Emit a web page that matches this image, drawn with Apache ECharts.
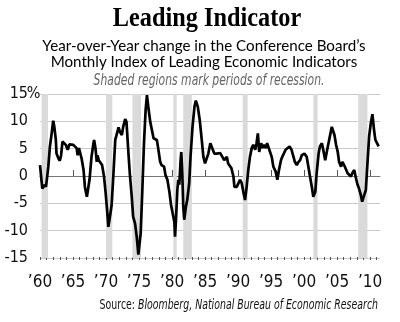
<!DOCTYPE html>
<html>
<head>
<meta charset="utf-8">
<script src="https://cdn.jsdelivr.net/npm/echarts@6/dist/echarts.min.js"></script>
<style>
html,body{margin:0;padding:0;background:#fff;}
#c{width:400px;height:322px;}
</style>
</head>
<body>
<div id="c"></div>
<script>
// ---- data ----
const years = [
1960.0,1960.35,1960.5,1960.75,1960.9,1961.06,1961.26,1961.5,1961.77,1962.0,
1962.17,1962.4,1962.5,1962.8,1963.0,1963.2,1963.4,1963.7,1963.9,1964.2,
1964.45,1964.7,1965.05,1965.3,1965.55,1965.7,1965.9,1966.2,1966.3,1966.6,
1966.8,1967.1,1967.2,1967.5,1967.8,1968.1,1968.2,1968.4,1968.6,1968.7,
1968.9,1969.2,1969.4,1969.7,1969.95,1970.2,1970.35,1970.6,1970.85,1971.1,
1971.4,1971.6,1971.9,1972.1,1972.4,1972.6,1972.9,1973.1,1973.4,1973.6,
1973.9,1974.1,1974.4,1974.65,1974.9,1975.05,1975.25,1975.5,1975.75,1976.0,
1976.2,1976.4,1976.7,1976.9,1977.2,1977.4,1977.7,1977.9,1978.2,1978.4,
1978.8,1979.0,1979.3,1979.6,1979.85,1980.1,1980.35,1980.45,1980.6,1980.8,
1980.95,1981.1,1981.3,1981.4,1981.55,1981.7,1981.85,1982.1,1982.3,1982.6,
1982.8,1983.1,1983.4,1983.6,1983.9,1984.2,1984.5,1984.75,1985.0,1985.25,
1985.5,1985.8,1986.1,1986.4,1986.8,1987.3,1987.6,1987.9,1988.3,1988.5,
1988.8,1989.0,1989.3,1989.45,1989.8,1990.05,1990.3,1990.55,1990.8,1991.06,
1991.3,1991.55,1991.8,1992.07,1992.3,1992.6,1992.8,1993.0,1993.2,1993.5,
1993.7,1993.9,1994.2,1994.4,1994.7,1995.1,1995.35,1995.7,1995.95,1996.2,
1996.5,1996.7,1997.0,1997.2,1997.5,1997.8,1998.1,1998.4,1998.6,1998.9,
1999.1,1999.4,1999.65,2000.05,2000.4,2000.65,2000.9,2001.2,2001.4,2001.7,
2001.9,2002.2,2002.4,2002.7,2002.9,2003.2,2003.5,2003.7,2003.9,2004.2,
2004.35,2004.6,2004.85,2005.1,2005.3,2005.6,2005.8,2006.06,2006.3,2006.6,
2006.8,2007.1,2007.3,2007.6,2007.8,2008.1,2008.3,2008.6,2008.8,2009.1,
2009.35,2009.6,2009.85,2010.1,2010.35,2010.6,2010.8,2011.05,2011.3
];
const values = [
2.0,-2.3,-2.6,-1.6,-2.0,-0.4,1.7,5.4,7.8,10.1,
9.0,6.6,4.1,3.2,2.8,3.8,6.3,6.3,5.7,4.8,
5.8,6.0,5.7,6.0,5.1,3.8,5.1,4.8,3.2,1.1,
-2.0,-3.8,-4.1,-0.7,3.5,6.0,6.6,5.1,2.6,3.8,
2.9,3.2,2.0,-0.1,-3.2,-6.8,-9.3,-7.4,-5.3,-0.1,
6.6,6.9,8.9,8.1,7.5,9.0,10.4,9.9,4.1,0.5,
-3.8,-7.4,-8.7,-11.1,-14.4,-14.7,-10.5,-2.6,6.0,12.1,
14.8,12.7,9.9,9.6,6.9,7.2,6.6,5.1,2.6,2.0,
1.7,0.2,-0.7,-2.9,-5.3,-5.0,-8.4,-11.1,-8.0,-2.6,
-0.7,-1.6,2.9,4.4,0.5,-5.6,-8.0,-5.6,-4.4,-1.3,
3.5,9.0,12.7,13.8,12.7,10.2,6.6,3.5,2.3,2.6,
4.1,6.0,5.7,4.1,4.1,4.2,4.1,2.9,3.5,2.3,
2.6,1.4,-0.1,-2.0,-2.0,-2.2,-0.7,-1.3,-2.9,-4.4,
-2.0,1.1,3.5,5.1,5.7,4.8,6.0,7.8,4.4,6.0,
5.1,5.7,5.1,6.0,5.7,3.5,1.7,0.8,-0.7,1.1,
2.9,3.5,3.2,4.8,5.1,5.4,4.8,3.5,2.6,2.0,
2.5,2.9,3.8,4.1,3.5,1.7,-0.1,-2.2,-3.8,-2.9,
0.5,4.1,5.4,6.0,4.8,2.9,4.8,6.0,7.2,9.0,
9.3,7.5,5.7,4.4,2.6,1.7,2.6,2.0,2.3,0.5,
0.2,-0.1,0.5,1.1,-0.1,-1.6,-2.2,-3.5,-4.7,-5.0,
-2.6,2.3,7.2,9.6,11.3,8.4,6.6,6.0,5.4
];
const recessionStart = [1960.25,1970.0,1974.0,1980.2,1981.7,1990.7,2001.4,2008.2];
const recessionEnd   = [1961.2,1970.95,1975.3,1980.7,1983.0,1991.45,2002.05,2009.6];
const majorTicks = [1960,1965,1970,1975,1980,1985,1990,1995,2000,2005,2010];
const minorTicks = [];
for (let y = 1960; y <= 2011; y++) minorTicks.push(y);

const titleText = 'Leading Indicator';
const subtitleLine1 = 'Year-over-Year change in the Conference Board’s';
const subtitleLine2 = 'Monthly Index of Leading Economic Indicators';
const noteText = 'Shaded regions mark periods of recession.';
const sourceLabel = 'Source: ';
const sourceText = 'Bloomberg, National Bureau of Economic Research';

// ---- chart ----
const NARROW = '"DejaVu Sans Condensed","Liberation Sans Narrow",sans-serif';
const chart = echarts.init(document.getElementById('c'), null, {renderer: 'canvas'});
const lineData = years.map((y, i) => [y, values[i]]);
const areas = recessionStart.map((s, i) => [{xAxis: s}, {xAxis: recessionEnd[i]}]);

chart.setOption({
  animation: false,
  backgroundColor: '#ffffff',
  graphic: [
    {type: 'text', x: 207, y: 19, scaleX: 0.9, z: 10,
     style: {text: titleText, x: 0, y: 0, align: 'center', verticalAlign: 'middle',
       font: 'bold 27px "Liberation Serif","Times New Roman",serif', fill: '#000'}},
    {type: 'text', x: 204, y: 46, scaleX: 1.01, z: 10,
     style: {text: subtitleLine1, x: 0, y: 0, align: 'center', verticalAlign: 'middle',
       font: '15px Lato,"Noto Sans",sans-serif', fill: '#000'}},
    {type: 'text', x: 204, y: 62, scaleX: 1.01, z: 10,
     style: {text: subtitleLine2, x: 0, y: 0, align: 'center', verticalAlign: 'middle',
       font: '15px Lato,"Noto Sans",sans-serif', fill: '#000'}},
    {type: 'text', x: 209, y: 81, scaleX: 0.8, z: 10,
     style: {text: noteText, x: 0, y: 0, align: 'center', verticalAlign: 'middle',
       font: 'italic 15px ' + NARROW, fill: '#666'}},
    {type: 'text', x: 378, y: 305, scaleX: 0.745, z: 10,
     style: {text: '{a|' + sourceLabel + '}{b|' + sourceText + '}', x: 0, y: 0,
       align: 'right', verticalAlign: 'middle',
       rich: {
         a: {font: '14px ' + NARROW, fill: '#111'},
         b: {font: 'italic 14px ' + NARROW, fill: '#111'}
       }}}
  ],
  grid: {left: 40, right: 20, top: 94, bottom: 64, containLabel: false},
  xAxis: [
    {type: 'value', min: 1960, max: 2011.5, position: 'bottom', offset: 2,
     axisLine: {show: true, lineStyle: {color: '#777', width: 1}},
     axisTick: {show: true, inside: true, length: 6, customValues: majorTicks, lineStyle: {color: '#555'}},
     axisLabel: {show: true, customValues: majorTicks, margin: 14,
       formatter: v => '’' + String(Math.round(v)).slice(2),
       fontFamily: NARROW, fontSize: 17, color: '#111'},
     splitLine: {show: false}},
    {type: 'value', min: 1960, max: 2011.5, position: 'bottom', offset: 2,
     axisLine: {show: false},
     axisTick: {show: true, inside: true, length: 3, customValues: minorTicks, lineStyle: {color: '#555'}},
     axisLabel: {show: false},
     splitLine: {show: false}}
  ],
  yAxis: {
    type: 'value', min: -15, max: 15, interval: 5,
    axisLine: {show: false}, axisTick: {show: false},
    splitLine: {show: true, lineStyle: {color: '#c9c9c9', width: 1}},
    axisLabel: {margin: 1,
      formatter: v => '{n|' + v + '}{p|' + (v === 15 ? '%' : '') + '}',
      rich: {
        n: {fontFamily: NARROW, fontSize: 16, color: '#111', align: 'right'},
        p: {fontFamily: NARROW, fontSize: 16, color: '#111', width: 11, align: 'left'}
      }}
  },
  series: [{
    type: 'line', xAxisIndex: 0, data: lineData, showSymbol: false, smooth: false,
    lineStyle: {color: '#000', width: 2.7}, z: 3,
    markArea: {silent: true, itemStyle: {color: '#dadada'}, data: areas}
  }]
});
</script>
</body>
</html>
